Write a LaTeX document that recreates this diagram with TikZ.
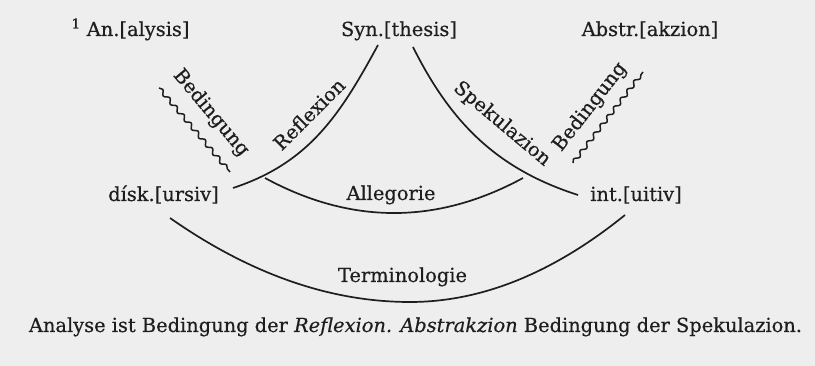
\documentclass[tikz,border=0pt]{standalone}
\usepackage{fontspec}
\setmainfont{DejaVu Serif}[FakeBold=0.5]
\usetikzlibrary{decorations.pathmorphing}
\definecolor{bg}{RGB}{238,238,238}
\definecolor{ink}{RGB}{30,30,30}
\tikzset{
  lbl/.style={inner sep=0pt, text=ink, font=\fontsize{19.4}{22}\selectfont, anchor=base},
  rlbl/.style={inner sep=0pt, text=ink, font=\fontsize{19.4}{22}\selectfont},
  arcline/.style={draw=ink, line width=1.7pt},
  wavy/.style={draw=ink, line width=1.5pt, decorate, decoration={snake, segment length=11pt, amplitude=2pt}}
}
\begin{document}
\begin{tikzpicture}[x=1pt,y=-1pt]
\fill[bg] (0,0) rectangle (815,366);
\useasboundingbox (0,0) rectangle (815,366);
% top row
\node[lbl] (an) at (130.5,36) {\textsuperscript{1} An.[alysis]};
\node[lbl] (syn) at (399,36) {Syn.[thesis]};
\node[lbl] (abs) at (650,36) {Abstr.[akzion]};
% middle row
\node[lbl] (disk) at (163.5,201) {dísk.[ursiv]};
\node[lbl] (int) at (636,201) {int.[uitiv]};
\node[lbl] (alle) at (391,200) {Allegorie};
\node[lbl] (term) at (402.5,282) {Terminologie};
% caption
\node[lbl] (cap) at (415.5,332) {Analyse ist Bedingung der \textit{Reflexion. Abstrakzion} Bedingung der Spekulazion.};
% curve end points
\coordinate (rA) at (233,188);
\coordinate (rB) at (378,45);
\coordinate (sA) at (413,47);
\coordinate (sB) at (578,195);
\coordinate (aA) at (265,178);
\coordinate (aB) at (523,178);
\coordinate (tA) at (170,218);
\coordinate (tM) at (410,302);
\coordinate (tB) at (625,215);
\coordinate (wLa) at (159,88);
\coordinate (wLb) at (230,172);
\coordinate (wRa) at (573,163);
\coordinate (wRb) at (643,72);
% curves
\draw[arcline] (rA) .. controls (309,163) and (340,115) .. (rB);
\draw[arcline] (sA) .. controls (451,123) and (497,169) .. (sB);
\draw[arcline] (aA) .. controls (351,224.7) and (437,224.7) .. (aB);
\draw[arcline] (tA) .. controls (250,274) and (330,302) .. (tM)
                    .. controls (481.7,302) and (553.3,273) .. (tB);
% wavy lines
\draw[wavy] (wLa) -- (wLb);
\draw[wavy] (wRa) -- (wRb);
% rotated labels
\node[rlbl, rotate=45] (refl) at (309,114) {Reflexion};
\node[rlbl, rotate=-40] (spek) at (502,124) {Spekulazion};
\node[rlbl, rotate=-50] (bedL) at (211,113) {Bedingung};
\node[rlbl, rotate=52] (bedR) at (590,107) {Bedingung};
\end{tikzpicture}
\end{document}
